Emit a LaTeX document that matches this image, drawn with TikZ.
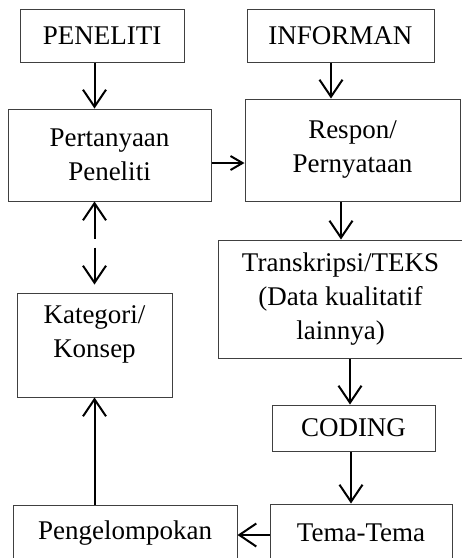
\documentclass[tikz,border=0pt]{standalone}
\usepackage{fontspec}
\setmainfont{Liberation Serif}
\usepackage{tikz}
\usetikzlibrary{arrows.meta,positioning,calc}

\begin{document}
\begin{tikzpicture}[x=1pt,y=-1pt,
  box/.style={draw=black!75,line width=1pt,align=center,
    font=\fontsize{27pt}{34pt}\selectfont,inner sep=0pt},
  arr/.style={line width=2pt,-{Straight Barb[length=17pt,width=23pt]}},
  smallarr/.style={line width=2pt,-{Straight Barb[length=12pt,width=14pt]}}]
\useasboundingbox (0,0) rectangle (462,558);
\clip (0,0) rectangle (462,558);
% boxes
\node[box,minimum width=164pt,minimum height=53pt] (peneliti) at (102,35.5) {PENELITI};
\node[box,minimum width=187pt,minimum height=53pt] (informan) at (340.5,35.5) {INFORMAN};
\node[box,minimum width=203pt,minimum height=92pt] (pertanyaan) at (109.5,155) {Pertanyaan\\Peneliti};
\node[box,minimum width=215pt,minimum height=102pt] (respon) at (352.5,150) {Respon/\\Pernyataan};
\node[box,minimum width=245pt,minimum height=118pt] (transkripsi) at (340.5,299) {Transkripsi/TEKS\\(Data kualitatif\\lainnya)};
\node[box,minimum width=155pt,minimum height=104pt,text depth=26pt] (kategori) at (94.5,345) {Kategori/\\Konsep};
\node[box,minimum width=163pt,minimum height=46pt] (coding) at (353.5,428) {CODING};
\node[box,minimum width=224pt,minimum height=56pt] (pengelompokan) at (125,533) {Pengelompokan};
\node[box,minimum width=182pt,minimum height=58pt] (tema) at (361,533) {Tema-Tema};
% arrows
\draw[arr] (peneliti.south -| kategori) -- (pertanyaan.north -| kategori);
\draw[arr] ([xshift=-9.5pt]informan.south) -- ([xshift=-9.5pt]informan.south |- respon.north);
\draw[smallarr] ([yshift=-8pt]pertanyaan.east) -- ([yshift=-8pt]pertanyaan.east -| respon.west);
\draw[arr] ([xshift=-11.5pt]respon.south) -- ([xshift=-11.5pt]respon.south |- transkripsi.north);
\draw[arr] ([xshift=9.5pt]transkripsi.south) -- ([xshift=9.5pt]transkripsi.south |- coding.north);
\draw[arr] ([xshift=-2.5pt]coding.south) -- ([xshift=-2.5pt]coding.south |- tema.north);
\draw[arr] ([yshift=-2pt]tema.west) -- ([yshift=-2pt]tema.west -| pengelompokan.east);
\draw[arr] (pengelompokan.north -| kategori) -- (kategori.south);
\draw[arr] ([yshift=-37pt]pertanyaan.south -| kategori) -- (pertanyaan.south -| kategori);
\draw[arr] ([yshift=45pt]kategori.north) -- ([yshift=8pt]kategori.north);
\end{tikzpicture}
\end{document}
